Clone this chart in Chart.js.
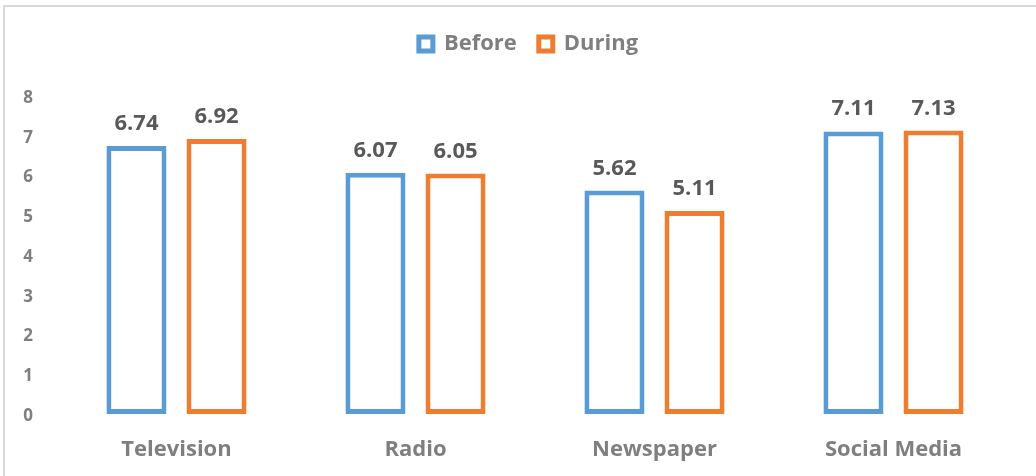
<!DOCTYPE html>
<html>
<head>
<meta charset="utf-8">
<title>Before / During</title>
<script src="https://cdn.jsdelivr.net/npm/chart.js@4.4.1/dist/chart.umd.min.js"></script>
<style>
    html, body {
        margin: 0;
        padding: 0;
        background: #ffffff;
    }
    #wrap {
        position: absolute;
        left: 3px;
        top: 5px;
        width: 1033px;
        height: 471px;
        border-top: 2px solid #d9d9d9;
        border-left: 2px solid #d9d9d9;
        box-sizing: border-box;
    }
    #chartBox {
        position: absolute;
        left: 0;
        top: 0;
        width: 1036px;
        height: 476px;
    }
</style>
</head>
<body>
<div id="wrap"></div>
<div id="chartBox"><canvas id="mediaChart"></canvas></div>
<script>
const categories = ['Television', 'Radio', 'Newspaper', 'Social Media'];
const beforeValues = [6.74, 6.07, 5.62, 7.11];
const duringValues = [6.92, 6.05, 5.11, 7.13];
const yTicks = [0, 1, 2, 3, 4, 5, 6, 7, 8];

const FONT = "'Open Sans', Lato, sans-serif";

// writes the value above each bar
const valueLabels = {
    id: 'valueLabels',
    afterDatasetsDraw(chart) {
        const ctx = chart.ctx;
        ctx.save();
        ctx.font = 'bold 22px ' + FONT;
        ctx.fillStyle = '#595959';
        ctx.textAlign = 'center';
        ctx.textBaseline = 'alphabetic';
        chart.data.datasets.forEach((ds, i) => {
            chart.getDatasetMeta(i).data.forEach((bar, j) => {
                ctx.fillText(ds.data[j].toFixed(2), bar.x, bar.y - 16);
            });
        });
        ctx.restore();
    }
};

// leaves room between the legend and the plot, and centres it on the frame
const legendGap = {
    id: 'legendGap',
    beforeInit(chart) {
        const fit = chart.legend.fit;
        chart.legend.fit = function () {
            fit.call(this);
            this.height = 85;
        };
    },
    afterLayout(chart) {
        chart.legend.left += 22;
        chart.legend.right += 22;
    }
};

const ctx = document.getElementById('mediaChart').getContext('2d');
window.mediaChart = new Chart(ctx, {
    type: 'bar',
    data: {
        labels: categories,
        datasets: [{
            label: 'Before',
            data: beforeValues,
            backgroundColor: '#ffffff',
            borderColor: '#5b9bd5',
            borderWidth: 5,
            borderSkipped: false
        }, {
            label: 'During',
            data: duringValues,
            backgroundColor: '#ffffff',
            borderColor: '#ed7d31',
            borderWidth: 5,
            borderSkipped: false
        }]
    },
    options: {
        responsive: true,
        maintainAspectRatio: false,
        animation: false,
        categoryPercentage: 0.67,
        barPercentage: 0.75,
        layout: {
            padding: { top: 11, right: 23, bottom: 0, left: 0 }
        },
        plugins: {
            legend: {
                position: 'top',
                labels: {
                    boxWidth: 14,
                    boxHeight: 14,
                    padding: 22,
                    color: '#7f7f7f',
                    font: { family: FONT, size: 22, weight: 'bold' }
                }
            },
            tooltip: { enabled: false }
        },
        scales: {
            y: {
                min: 0,
                max: 8,
                grid: { display: false },
                border: { display: false },
                afterFit: function (scale) { scale.width = 57; },
                afterBuildTicks: function (scale) {
                    scale.ticks = yTicks.map(v => ({ value: v }));
                },
                ticks: {
                    color: '#7f7f7f',
                    padding: 16,
                    labelOffset: 2,
                    font: { family: FONT, size: 17, weight: 'bold' }
                }
            },
            x: {
                grid: { display: false },
                border: { display: false },
                afterFit: function (scale) { scale.height = 62; },
                ticks: {
                    color: '#7f7f7f',
                    padding: 15,
                    font: { family: FONT, size: 22, weight: 'bold' }
                }
            }
        }
    },
    plugins: [valueLabels, legendGap]
});
</script>
</body>
</html>
